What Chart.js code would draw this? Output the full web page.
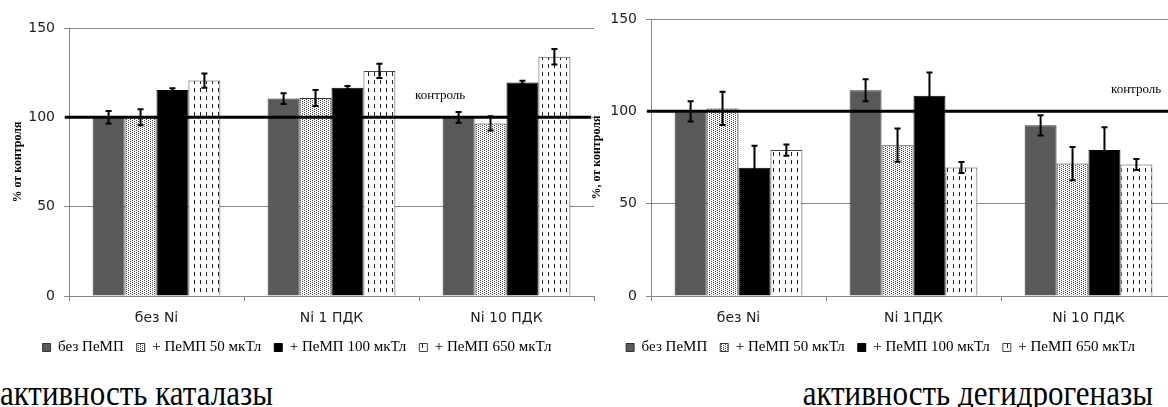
<!DOCTYPE html>
<html lang="ru">
<head>
<meta charset="UTF-8">
<title>Активность каталазы и дегидрогеназы</title>
<script src="https://cdn.jsdelivr.net/npm/chart.js"></script>
<style>
  body { margin: 0; background: #fff; width: 1168px; height: 407px; overflow: hidden; position: relative; }
  canvas { position: absolute; top: 0; }
  #catalase { left: 0; }
  #dehydro { left: 585px; }
  .caption { position: absolute; top: 379px; font-family: "Liberation Serif", "Times New Roman", serif;
             font-size: 31px; line-height: 31px; white-space: nowrap; color: #000;
             transform: scaleY(1.17); transform-origin: 50% 26px; }
</style>
</head>
<body>
<canvas id="catalase" width="595" height="365"></canvas>
<canvas id="dehydro" width="600" height="365"></canvas>
<div class="caption" style="right:895px">активность каталазы</div>
<div class="caption" style="right:15px">активность дегидрогеназы</div>
<script>
// categories
const groupsCat = ['без Ni', 'Ni 1 ПДК', 'Ni 10 ПДК'];
const groupsDeh = ['без Ni', 'Ni 1ПДК', 'Ni 10 ПДК'];
const seriesNames = ['без ПеМП', '+ ПеМП 50 мкТл', '+ ПеМП 100 мкТл', '+ ПеМП 650 мкТл'];

// каталаза, % от контроля
const catNoField = [100, 110.5, 100];
const cat50 = [100, 110.8, 96.6];
const cat100 = [115.3, 116.5, 119.5];
const cat650 = [120.6, 126, 133.9];
const catNoFieldErr = [3.5, 3, 3];
const cat50Err = [4.5, 4.5, 4];
const cat100Err = [1, 1, 1];
const cat650Err = [4, 4, 4.3];

// дегидрогеназа, % от контроля
const dehNoField = [100, 111.4, 92.4];
const deh50 = [101.6, 81.7, 71.7];
const deh100 = [69.4, 108.5, 79];
const deh650 = [79, 69.6, 71.2];
const dehNoFieldErr = [5.5, 6, 5.5];
const deh50Err = [9, 9, 9];
const deh100Err = [12, 12.5, 12.4];
const deh650Err = [3, 3, 3];

const controlValue = 100;
const controlText = 'контроль';
const yMin = 0, yMax = 150, yStep = 50;

Chart.defaults.font.family = '"DejaVu Sans", Verdana, sans-serif';
Chart.defaults.color = '#222';

function makeDots() {
  const c = document.createElement('canvas');
  c.width = 4; c.height = 2;
  const g = c.getContext('2d');
  g.fillStyle = '#fff'; g.fillRect(0, 0, 4, 2);
  g.fillStyle = '#444';
  g.fillRect(0, 0, 1, 1);
  g.fillRect(2, 1, 1, 1);
  return g.createPattern(c, 'repeat');
}
function makeDashes() {
  const c = document.createElement('canvas');
  c.width = 6; c.height = 8;
  const g = c.getContext('2d');
  g.fillStyle = '#fff'; g.fillRect(0, 0, 6, 8);
  g.fillStyle = '#222';
  g.fillRect(2, 0, 1, 4);
  return g.createPattern(c, 'repeat');
}
const fills = ['#595959', makeDots(), '#000', makeDashes()];
const borders = ['#333', '#333', '#000', '#444'];

const errorBars = {
  id: 'errorBars',
  afterDatasetsDraw(chart) {
    const ctx = chart.ctx, y = chart.scales.y;
    ctx.save();
    ctx.strokeStyle = '#000';
    ctx.lineWidth = 2;
    chart.data.datasets.forEach((ds, i) => {
      chart.getDatasetMeta(i).data.forEach((bar, j) => {
        const v = ds.data[j], e = ds.errors[j];
        const top = y.getPixelForValue(v + e), bot = y.getPixelForValue(v - e);
        ctx.beginPath();
        ctx.moveTo(bar.x, top); ctx.lineTo(bar.x, bot);
        ctx.moveTo(bar.x - 3, top); ctx.lineTo(bar.x + 3, top);
        ctx.moveTo(bar.x - 3, bot); ctx.lineTo(bar.x + 3, bot);
        ctx.stroke();
      });
    });
    ctx.restore();
  }
};

const controlLine = {
  id: 'controlLine',
  afterDatasetsDraw(chart, args, opts) {
    const ctx = chart.ctx, a = chart.chartArea;
    const yy = chart.scales.y.getPixelForValue(opts.value);
    ctx.save();
    ctx.strokeStyle = '#000';
    ctx.lineWidth = 3;
    ctx.beginPath();
    ctx.moveTo(a.left - 4, yy);
    ctx.lineTo(a.right - 3, yy);
    ctx.stroke();
    ctx.font = '13px "Liberation Serif", serif';
    ctx.fillStyle = '#000';
    ctx.textAlign = 'center';
    ctx.textBaseline = 'middle';
    ctx.fillText(opts.text, a.left + opts.labelAt * (a.right - a.left), yy - 22);
    ctx.restore();
  }
};

function buildDatasets(values, errs) {
  return values.map((d, i) => ({
    label: seriesNames[i],
    data: d,
    errors: errs[i],
    backgroundColor: fills[i],
    borderColor: borders[i],
    borderWidth: 1,
    categoryPercentage: 0.73,
    barPercentage: 1
  }));
}

function makeChart(id, labels, values, errs, opt) {
  return new Chart(document.getElementById(id), {
    type: 'bar',
    data: { labels: labels, datasets: buildDatasets(values, errs) },
    plugins: [errorBars, controlLine],
    options: {
      responsive: false,
      animation: false,
      layout: { padding: { top: opt.top, right: opt.right, left: 0, bottom: 0 } },
      plugins: {
        tooltip: { enabled: false },
        controlLine: { value: controlValue, text: controlText, labelAt: opt.labelAt },
        legend: {
          position: 'bottom',
          labels: {
            boxWidth: 8, boxHeight: 8, padding: 13, color: '#000',
            font: { family: '"Liberation Serif", "Times New Roman", serif', size: 15 }
          }
        }
      },
      scales: {
        x: {
          grid: { drawOnChartArea: false, tickLength: 5, color: '#868686', offset: true },
          border: { color: '#868686' },
          ticks: { padding: 9, color: '#222', font: { size: 14 } },
          afterFit: s => { s.height = 31; }
        },
        y: {
          min: yMin, max: yMax,
          ticks: { stepSize: yStep, padding: 9, color: '#222', font: { size: 14 } },
          grid: { color: '#868686', tickLength: 5 },
          border: { color: '#868686' },
          title: {
            display: true, text: opt.title, color: '#000',
            font: { family: '"Liberation Serif", "Times New Roman", serif', weight: 'bold', size: 12 },
            padding: { top: opt.titlePad, bottom: 0 }
          },
          afterFit: s => { s.width = opt.yWidth; }
        }
      }
    }
  });
}

makeChart('catalase', groupsCat,
  [catNoField, cat50, cat100, cat650],
  [catNoFieldErr, cat50Err, cat100Err, cat650Err],
  { top: 28, right: 1, yWidth: 69, titlePad: 11, labelAt: 0.707, title: '% от контроля' });

makeChart('dehydro', groupsDeh,
  [dehNoField, deh50, deh100, deh650],
  [dehNoFieldErr, deh50Err, deh100Err, deh650Err],
  { top: 19, right: 9, yWidth: 66, titlePad: 5, labelAt: 0.924, title: '%, от контроля' });
</script>
</body>
</html>
